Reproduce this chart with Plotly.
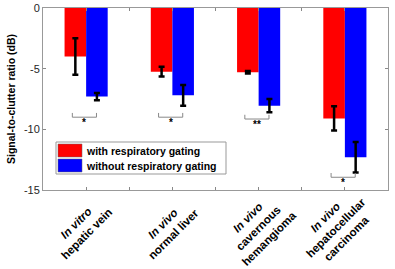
import plotly.graph_objects as go

# ---- data ----
categories = [1, 2, 3, 4]
cat_line1 = ["In vitro", "In vivo", "In vivo", "In vivo"]
cat_line2 = ["hepatic vein", "normal liver", "cavernous<br>hemangioma", "hepatocellular<br>carcinoma"]
series_names = ["with respiratory gating", "without respiratory gating"]
with_gating = [-4.0, -5.25, -5.3, -9.1]
with_gating_err = [1.5, 0.4, 0.1, 1.0]
without_gating = [-7.3, -7.2, -8.05, -12.3]
without_gating_err = [0.3, 0.85, 0.55, 1.25]
sig_labels = ["*", "*", "**", "*"]
sig_levels = [-9.0, -9.0, -9.15, -13.95]
y_ticks = [0, -5, -10, -15]

FONT = "Arial, Liberation Sans, sans-serif"
COLORS = ["#FF0000", "#0000FF"]

fig = go.Figure()
for name, vals, errs, col in zip(series_names, [with_gating, without_gating],
                                 [with_gating_err, without_gating_err], COLORS):
    fig.add_trace(go.Bar(
        x=categories, y=vals, name=name,
        marker=dict(color=col, line=dict(width=0)),
        error_y=dict(type="data", array=errs, color="black", thickness=2.5, width=3),
    ))

# significance brackets and stars
for c, lvl, lab in zip(categories, sig_levels, sig_labels):
    xc = c - 0.02
    x0, x1 = xc - 0.14, xc + 0.14
    fig.add_shape(type="path",
                  path=f"M {x0} {lvl + 0.35} L {x0} {lvl} L {x1} {lvl} L {x1} {lvl + 0.35}",
                  xref="x", yref="y", line=dict(color="#888888", width=1))
    fig.add_annotation(x=xc, y=lvl, xref="x", yref="y", text=lab, showarrow=False,
                       yanchor="top", yshift=2,
                       font=dict(family=FONT, size=10, color="black", weight="bold"))

# category labels (rotated)
label_xshift = [-5, -4, 0, -9]
for c, l1, l2, dx in zip(categories, cat_line1, cat_line2, label_xshift):
    fig.add_annotation(x=c, y=-0.21, xref="x", yref="paper",
                       text=f"<i>{l1}</i><br>{l2}", showarrow=False, textangle=-45,
                       xanchor="center", yanchor="middle", xshift=dx,
                       font=dict(family=FONT, size=11.5, color="black", weight="bold"))

# legend drawn in paper coordinates
def px_x(p):
    return (p - 43) / 345.0

def px_y(p):
    return (190 - p) / 182.0

fig.add_shape(type="rect", xref="paper", yref="paper",
              x0=px_x(56), x1=px_x(226), y0=px_y(174), y1=px_y(142),
              fillcolor="white", line=dict(color="#999999", width=1))
for i, (name, col) in enumerate(zip(series_names, COLORS)):
    top = 144 + i * 15
    fig.add_shape(type="rect", xref="paper", yref="paper",
                  x0=px_x(58), x1=px_x(82), y0=px_y(top + 13), y1=px_y(top),
                  fillcolor=col, line=dict(color="#666666", width=0.5))
    fig.add_annotation(x=px_x(84), y=px_y(top + 6.5), xref="paper", yref="paper",
                       text=name, showarrow=False, xanchor="left", yanchor="middle",
                       font=dict(family=FONT, size=10.5, color="black", weight="bold"))

fig.update_layout(
    width=395, height=269,
    margin=dict(l=43, r=7, t=8, b=79),
    paper_bgcolor="white", plot_bgcolor="white",
    barmode="group", bargap=0.5, bargroupgap=0,
    font=dict(family=FONT, color="#262626"),
    showlegend=False,
    xaxis=dict(range=[0.5, 4.5], tickvals=[1, 1.5, 2, 2.5, 3, 3.5, 4],
               ticktext=[""] * 7, ticks="inside", ticklen=3, tickcolor="#888888",
               showline=True, linecolor="#999999", linewidth=1, mirror="ticks",
               showgrid=False, zeroline=False, automargin=False),
    yaxis=dict(range=[-15, 0], tickvals=y_ticks, ticktext=[str(v) for v in y_ticks],
               ticks="inside", ticklen=3, tickcolor="#888888",
               showline=True, linecolor="#999999", linewidth=1, mirror="ticks",
               showgrid=False, zeroline=False, automargin=False,
               tickfont=dict(family=FONT, size=11, color="#262626"),
               title=dict(text="Signal-to-clutter ratio (dB)", standoff=6,
                          font=dict(family=FONT, size=10.5, color="black", weight="bold"))),
)

fig.write_html("out.html", config={"displayModeBar": False, "staticPlot": True},
               post_script="document.body.style.margin='0';document.body.style.overflow='hidden';")
